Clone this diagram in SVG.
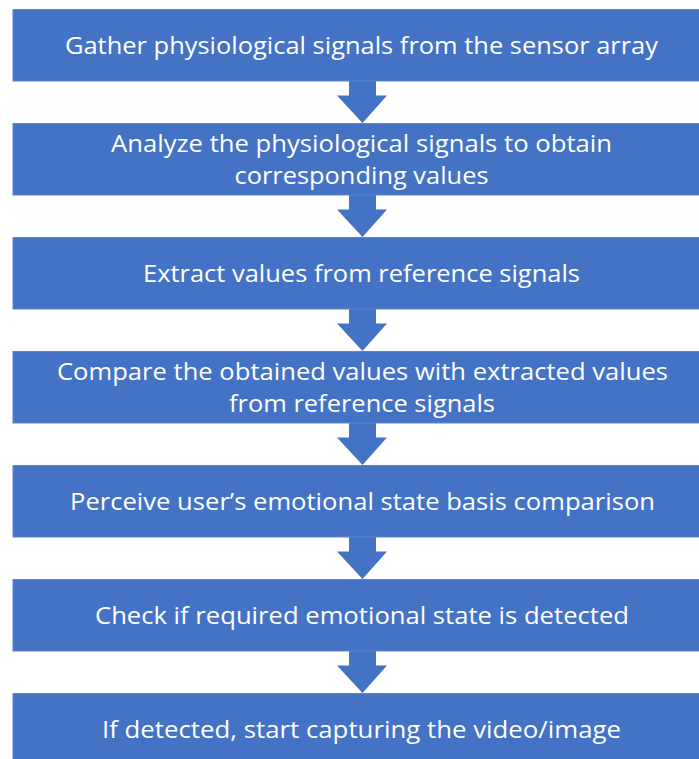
<svg xmlns="http://www.w3.org/2000/svg" width="699" height="759" viewBox="0 0 699 759">
<defs>
<style>
.box{fill:#4472C4;stroke:#5B84CC;stroke-width:1}
.arrow{fill:#4472C4}
.t{fill:#ffffff;font-family:"Open Sans","Liberation Sans",sans-serif;font-size:23px;text-anchor:middle}
</style>
<path id="arr" class="arrow" d="M349,0 H376 V14.5 H387 L362.5,42 L337,14.5 H349 Z"/>
</defs>
<rect width="699" height="759" fill="#ffffff"/>
<g id="connectors">
<use href="#arr" y="81"/>
<use href="#arr" y="195"/>
<use href="#arr" y="309"/>
<use href="#arr" y="423"/>
<use href="#arr" y="537"/>
<use href="#arr" y="651"/>
</g>
<g id="n1"><rect class="box" x="13" y="9.5" width="700" height="71.5"/>
<text class="t" x="361.5" y="54" textLength="593" lengthAdjust="spacingAndGlyphs">Gather physiological signals from the sensor array</text></g>
<g id="n2"><rect class="box" x="13" y="123.5" width="700" height="71.5"/>
<text class="t" x="361.5" y="152" textLength="501" lengthAdjust="spacingAndGlyphs">Analyze the physiological signals to obtain</text>
<text class="t" x="361.5" y="184" textLength="254" lengthAdjust="spacingAndGlyphs">corresponding values</text></g>
<g id="n3"><rect class="box" x="13" y="237.5" width="700" height="71.5"/>
<text class="t" x="361.5" y="282" textLength="437" lengthAdjust="spacingAndGlyphs">Extract values from reference signals</text></g>
<g id="n4"><rect class="box" x="13" y="351.5" width="700" height="71.5"/>
<text class="t" x="362.5" y="380" textLength="611" lengthAdjust="spacingAndGlyphs">Compare the obtained values with extracted values</text>
<text class="t" x="362" y="412" textLength="266" lengthAdjust="spacingAndGlyphs">from reference signals</text></g>
<g id="n5"><rect class="box" x="13" y="465.5" width="700" height="71.5"/>
<text class="t" x="362.5" y="510" textLength="585" lengthAdjust="spacingAndGlyphs">Perceive user’s emotional state basis comparison</text></g>
<g id="n6"><rect class="box" x="13" y="579.5" width="700" height="71.5"/>
<text class="t" x="362" y="624" textLength="534" lengthAdjust="spacingAndGlyphs">Check if required emotional state is detected</text></g>
<g id="n7"><rect class="box" x="13" y="693.5" width="700" height="71.5"/>
<text class="t" x="361.5" y="738" textLength="519" lengthAdjust="spacingAndGlyphs">If detected, start capturing the video/image</text></g>
</svg>
